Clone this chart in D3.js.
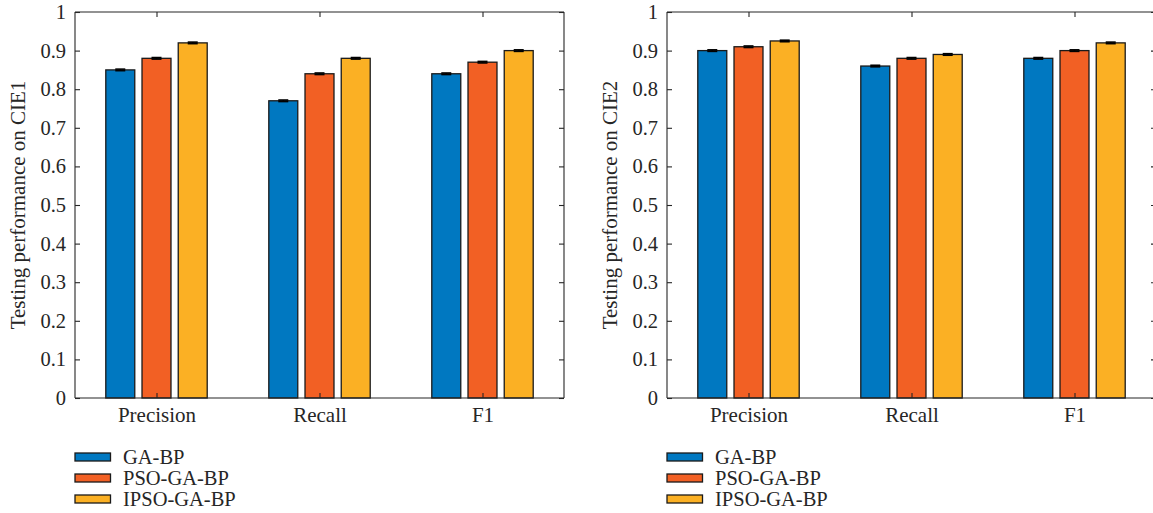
<!DOCTYPE html>
<html><head><meta charset="utf-8">
<script src="https://cdn.jsdelivr.net/npm/d3@7"></script>
<style>body{margin:0;background:#fff}svg{display:block}</style>
</head><body><svg id="c" width="1153" height="513"></svg>
<script>
const categories = ["Precision","Recall","F1"];
const seriesNames = ["GA-BP","PSO-GA-BP","IPSO-GA-BP"];
const colors = ["#0078C1","#F26024","#FBB024"];
const cie1 = [[0.85,0.77,0.84],[0.88,0.84,0.87],[0.92,0.88,0.90]];
const cie2 = [[0.90,0.86,0.88],[0.91,0.88,0.90],[0.925,0.89,0.92]];
const errors = 0.002;
const yTicks = [0,0.1,0.2,0.3,0.4,0.5,0.6,0.7,0.8,0.9,1];
const yLabels = ["Testing performance on CIE1","Testing performance on CIE2"];
const datasets = [cie1, cie2];

const FONT = "'Liberation Serif','Times New Roman',serif";
const svg = d3.select("#c");
const plotTop = 12, plotBottom = 398, pw = 489;
const lefts = [75, 667];

datasets.forEach((data, k) => {
  const x0 = lefts[k];
  const g = svg.append("g");
  const x = d3.scaleLinear().domain([0.5, 3.5]).range([x0, x0 + pw]);
  const y = d3.scaleLinear().domain([0, 1]).range([plotBottom, plotTop]);
  const off = 0.2222, bw = 0.2222 * 0.8;

  // bars
  data.forEach((vals, j) => {
    vals.forEach((v, i) => {
      const cx = i + 1 + (j - 1) * off;
      g.append("rect")
        .attr("x", x(cx - bw / 2)).attr("width", x(cx + bw / 2) - x(cx - bw / 2))
        .attr("y", y(v)).attr("height", y(0) - y(v))
        .attr("fill", colors[j]).attr("stroke", "#1a1a1a").attr("stroke-width", 1.3);
      const ex = x(cx);
      g.append("line").attr("x1", ex).attr("x2", ex).attr("y1", y(v - errors)).attr("y2", y(v + errors))
        .attr("stroke", "#000").attr("stroke-width", 1.5);
      [v - errors, v + errors].forEach(e => {
        g.append("line").attr("x1", ex - 5).attr("x2", ex + 5).attr("y1", y(e)).attr("y2", y(e))
          .attr("stroke", "#000").attr("stroke-width", 1.6);
      });
    });
  });

  // axes (box with inward ticks)
  const axL = d3.axisLeft(y).tickValues(yTicks).tickSize(-5).tickPadding(9).tickFormat(d => d3.format("")(d));
  const axR = d3.axisRight(y).tickValues(yTicks).tickSize(-5).tickFormat("");
  const axB = d3.axisBottom(x).tickValues([1,2,3]).tickSize(-5).tickPadding(9).tickFormat(d => categories[d - 1]);
  const axT = d3.axisTop(x).tickValues([1,2,3]).tickSize(-5).tickFormat("");
  const styleAx = (s, fs) => {
    s.attr("font-family", null).attr("font-size", null);
    s.select(".domain").attr("stroke", "#262626").attr("stroke-width", 1.1);
    s.selectAll(".tick line").attr("stroke", "#262626").attr("stroke-width", 1.1);
    s.selectAll("text").attr("fill", "#262626").style("font-size", fs + "px").style("font-family", FONT);
  };
  g.append("g").attr("transform", `translate(${x0},0)`).call(axL).call(styleAx, 20.5).call(s => s.select(".domain").attr("d", `M0,${plotTop}V${plotBottom}`));
  g.append("g").attr("transform", `translate(${x0 + pw},0)`).call(axR).call(styleAx, 20).call(s => s.select(".domain").attr("d", `M0,${plotTop}V${plotBottom}`));
  g.append("g").attr("transform", `translate(0,${plotBottom})`).call(axB).call(styleAx, 21).call(s => s.select(".domain").attr("d", `M${x0},0H${x0 + pw}`));
  g.append("g").attr("transform", `translate(0,${plotTop})`).call(axT).call(styleAx, 20).call(s => s.select(".domain").attr("d", `M${x0},0H${x0 + pw}`));

  // y label
  g.append("text").attr("transform", `translate(${x0 - 50},${(plotTop + plotBottom) / 2}) rotate(-90)`)
    .attr("text-anchor", "middle").attr("fill", "#262626")
    .style("font-family", FONT).style("font-size", "21px").text(yLabels[k]);

  // legend
  seriesNames.forEach((n, j) => {
    const cy = 457 + j * 21;
    g.append("rect").attr("x", x0).attr("y", cy - 4).attr("width", 35.5).attr("height", 8)
      .attr("fill", colors[j]).attr("stroke", "#1a1a1a").attr("stroke-width", 1.3);
    g.append("text").attr("x", x0 + 48).attr("y", cy + 6.5).attr("fill", "#262626")
      .style("font-family", FONT).style("font-size", "20.5px").text(n);
  });
});
</script></body></html>
